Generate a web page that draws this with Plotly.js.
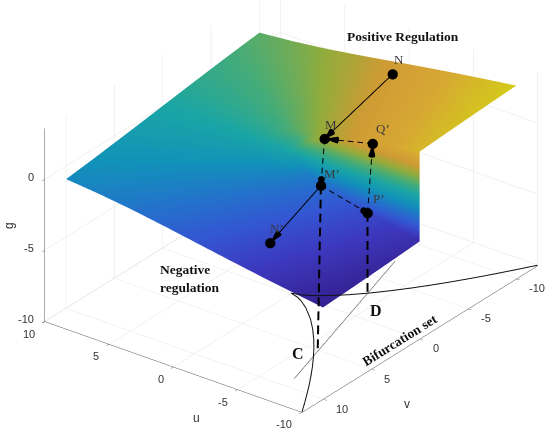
<!DOCTYPE html>
<html><head><meta charset="utf-8">
<script src="https://cdn.plot.ly/plotly-3.0.1.min.js"></script>
<style>html,body{margin:0;padding:0;background:#fff}#chart{width:550px;height:439px}</style>
</head><body><div id="chart"></div>
<script>
// ---- surface: equilibrium sheet g(u,v) (rows = v, columns = u) ----
const uGrid = [-10, -7.5, -5, -2.5, -1.25, 0, 2.5, 5, 7.5, 10];
const vGrid = [-10, -7.5, -5, -2.5, -1, 0, 0, 1, 2.5, 5, 7.5, 10];
const gGrid = [
  [3.577, 3.252, 2.906, 2.538, 2.347, 2.154, 1.772, 1.423, 1.137, 0.922],
  [3.486, 3.144, 2.775, 2.378, 2.170, 1.957, 1.540, 1.175, 0.902, 0.714],
  [3.388, 3.025, 2.627, 2.188, 1.952, 1.710, 1.239, 0.869, 0.633, 0.488],
  [3.281, 2.892, 2.453, 1.946, 1.660, 1.357, 0.797, 0.478, 0.329, 0.249],
  [3.211, 2.803, 2.330, 1.752, 1.401, 1.000, 0.378, 0.198, 0.133, 0.100],
  [3.162, 2.739, 2.236, 1.581, 1.118, 0, 0, 0, 0, 0],
  [-3.162, -2.739, -2.236, -1.581, -1.118, 0, 0, 0, 0, 0],
  [-3.211, -2.803, -2.330, -1.752, -1.401, -1.000, -0.378, -0.198, -0.133, -0.100],
  [-3.281, -2.892, -2.453, -1.946, -1.660, -1.357, -0.797, -0.478, -0.329, -0.249],
  [-3.388, -3.025, -2.627, -2.188, -1.952, -1.710, -1.239, -0.869, -0.633, -0.488],
  [-3.486, -3.144, -2.775, -2.378, -2.170, -1.957, -1.540, -1.175, -0.902, -0.714],
  [-3.577, -3.252, -2.906, -2.538, -2.347, -2.154, -1.772, -1.423, -1.137, -0.922]
];
// ---- bifurcation set on the floor (g = -10) ----
const bifV = [-12.17, -11, -10, -9, -8, -7, -6, -5, -4, -3, -2, -1, -0.5, -0.2, 0, 0.2, 0.5, 1, 2, 3, 4, 5, 6, 7, 8, 9, 10, 11, 12.17];
const bifU = [-10, -9.35, -8.77, -8.18, -7.56, -6.92, -6.24, -5.53, -4.76, -3.93, -3.0, -1.89, -1.19, -0.65, 0, -0.65, -1.19, -1.89, -3.0, -3.93, -4.76, -5.53, -6.24, -6.92, -7.56, -8.18, -8.77, -9.35, -10];
// ---- control path on the floor ----
const pathU = [-6.98, -2.61];
const pathV = [8.98, -7.3];
// ---- labelled states ----
const ptNames = ['N', 'M', 'Q\u2019', 'M\u2019', 'P\u2019', 'N\u2019'];
const ptU = [-1.5, -2.45, -4.2, -6.15, -3.8, -3.45];
const ptV = [-8.5, -0.2, -2.85, 5.1, -2.85, 6.76];
const ptG = [2.3, 1.57, 0.66, 1.70, -4.35, -2.5];
// ---- floor points C, D ----
const floorNames = ['C', 'D'];
const floorU = [-5.9, -3.8];
const floorV = [5.1, -2.85];
const floorG = [-10, -10];
// ---- transitions (from, to) ----
const solidArrows = [[0, 1], [3, 5]];
const dashArrows = [[1, 3], [3, 4], [4, 2], [2, 1]];
const dropLines = [[3, 0], [4, 1]]; // state index -> floor index

const uRange = [-10.03, 10], vRange = [-12.2, 12.2], gRange = [-10.03, 3.58];
const uTicks = [-10, -5, 0, 5, 10], vTicks = [-10, -5, 0, 5, 10], gTicks = [-10, -5, 0];

const parula = [
  [0.0, 'rgb(62,38,168)'], [0.1, 'rgb(70,65,220)'], [0.2, 'rgb(60,100,245)'],
  [0.3, 'rgb(40,135,235)'], [0.4, 'rgb(20,170,215)'], [0.5, 'rgb(30,192,192)'],
  [0.6, 'rgb(80,200,140)'], [0.7, 'rgb(170,200,70)'], [0.8, 'rgb(240,180,60)'],
  [0.9, 'rgb(250,195,60)'], [1.0, 'rgb(245,235,30)']
];

const dir = [-0.5314, 0.7058, 0.4688];
const dist = 2.0;
const ctr = {x: 0.0307, y: 0.0832, z: -0.0904};
const camera = {
  eye: {x: ctr.x + dir[0] * dist, y: ctr.y + dir[1] * dist, z: ctr.z + dir[2] * dist},
  center: ctr,
  up: {x: 0, y: 0, z: 1},
  projection: {type: 'orthographic'}
};
const zoom = 1.786;
const aspect = {x: zoom * 20 / 24.34, y: zoom, z: zoom * 13.58 / 24.34};

function axis(rng, ticks, show) {
  return {
    range: rng, autorange: false, tickvals: ticks,
    title: {text: ''}, showgrid: show, gridcolor: '#e3e3e3', gridwidth: 1,
    showline: show, linecolor: '#555', linewidth: 1, ticks: show ? 'outside' : '',
    ticklen: 4, tickcolor: '#555', showticklabels: false, zeroline: false,
    showbackground: false, showspikes: false, visible: show
  };
}

// dashed segment helper (visual style only): dash lengths measured on screen
function dashed(p0, p1, dash, gap) {
  const d = [p1[0] - p0[0], p1[1] - p0[1], p1[2] - p0[2]];
  const k = d[0] * dir[0] + d[1] * dir[1] + d[2] * dir[2];
  const Ls = Math.hypot(d[0] - k * dir[0], d[1] - k * dir[1], d[2] - k * dir[2]);
  const X = [], Y = [], Z = [];
  for (let s = 0; s < Ls; s += dash + gap) {
    const e = Math.min(s + dash, Ls);
    [s, e].forEach(t => {
      const f = t / Ls;
      X.push(p0[0] + d[0] * f);
      Y.push(p0[1] + d[1] * f);
      Z.push(p0[2] + d[2] * f);
    });
    X.push(null); Y.push(null); Z.push(null);
  }
  return {x: X, y: Y, z: Z};
}
const pt = i => [ptU[i], ptV[i], ptG[i]];
const fl = k => [floorU[k], floorV[k], floorG[k]];

const traces = [];
traces.push({
  type: 'surface', x: uGrid, y: vGrid, z: gGrid, surfacecolor: gGrid,
  colorscale: parula, cmin: -3.58, cmax: 3.58, showscale: false,
  lighting: {ambient: 0.86, diffuse: 0, specular: 0, roughness: 1, fresnel: 0},
  hoverinfo: 'skip', scene: 'scene'
});
traces.push({
  type: 'scatter3d', mode: 'lines', x: pathU, y: pathV, z: [-10, -10],
  line: {color: '#555', width: 1.2}, hoverinfo: 'skip', scene: 'scene', showlegend: false
});

// overlay scene: curves, transitions and states drawn above the sheet
traces.push({
  type: 'scatter3d', mode: 'lines', x: bifU, y: bifV, z: bifV.map(() => -10),
  line: {color: '#111', width: 2}, hoverinfo: 'skip', scene: 'scene2', showlegend: false
});
solidArrows.forEach(([i, j]) => traces.push({
  type: 'scatter3d', mode: 'lines', x: [ptU[i], ptU[j]], y: [ptV[i], ptV[j]], z: [ptG[i], ptG[j]],
  line: {color: '#000', width: 2}, hoverinfo: 'skip', scene: 'scene2', showlegend: false
}));
dashArrows.forEach(([i, j]) => traces.push(Object.assign({
  type: 'scatter3d', mode: 'lines', connectgaps: false,
  line: {color: '#000', width: 2}, hoverinfo: 'skip', scene: 'scene2', showlegend: false
}, dashed(pt(i), pt(j), 0.36, 0.24))));
dropLines.forEach(([i, k]) => traces.push(Object.assign({
  type: 'scatter3d', mode: 'lines', connectgaps: false,
  line: {color: '#000', width: 4}, hoverinfo: 'skip', scene: 'scene2', showlegend: false
}, dashed(pt(i), fl(k), 0.55, 0.32))));
traces.push({
  type: 'scatter3d', mode: 'markers', x: ptU, y: ptV, z: ptG,
  marker: {color: '#000', size: 6}, hoverinfo: 'skip', scene: 'scene2', showlegend: false
});
// arrow heads
const allArrows = solidArrows.concat(dashArrows);
const cx = [], cy = [], cz = [], cu = [], cv = [], cw = [];
allArrows.forEach(([i, j]) => {
  const du = ptU[j] - ptU[i], dv = ptV[j] - ptV[i], dg = ptG[j] - ptG[i];
  const n = Math.hypot(du, dv, dg);
  cx.push(ptU[j]); cy.push(ptV[j]); cz.push(ptG[j]);
  cu.push(du / n); cv.push(dv / n); cw.push(dg / n);
});
traces.push({
  type: 'cone', x: cx, y: cy, z: cz, u: cu, v: cv, w: cw, anchor: 'tip',
  sizemode: 'absolute', sizeref: 0.3, colorscale: [[0, '#000'], [1, '#000']],
  showscale: false, lighting: {ambient: 1, diffuse: 0, specular: 0, fresnel: 0},
  hoverinfo: 'skip', scene: 'scene2'
});

const ptShift = [[6, 15], [6, 14], [10, 15], [11, 12], [11, 15], [7, 14]];
const stateAnn = ptNames.map((t, i) => ({
  x: ptU[i], y: ptV[i], z: ptG[i], text: t, showarrow: false,
  xanchor: 'center', yanchor: 'middle',
  xshift: ptShift[i][0], yshift: ptShift[i][1],
  font: {family: 'Liberation Serif, Times New Roman, serif', size: 13, color: '#3a3a3a'}
}));
const tickFont = {family: 'Liberation Sans, Arial, sans-serif', size: 11, color: '#333'};
const tickAnn = [].concat(
  uTicks.map(t => ({x: t, y: 12.17, z: -10, text: String(t), xanchor: 'right', xshift: -8, yshift: -12.5})),
  vTicks.map(t => ({x: -10, y: t, z: -10, text: String(t), xanchor: 'left', xshift: 11, yshift: -10})),
  gTicks.map(t => ({x: 10, y: 12.17, z: t, text: String(t), xanchor: 'right', xshift: -9, yshift: 2}))
).map(a => Object.assign({showarrow: false, yanchor: 'middle', font: tickFont}, a));

function sceneLayout(show) {
  return {
    domain: {x: [0, 1], y: [0, 1]},
    xaxis: axis(uRange, uTicks, show), yaxis: axis(vRange, vTicks, show), zaxis: axis(gRange, gTicks, show),
    aspectmode: 'manual', aspectratio: aspect, camera: camera, bgcolor: 'rgba(0,0,0,0)',
    dragmode: false
  };
}
const s1 = sceneLayout(true);
s1.annotations = tickAnn;
const s2 = sceneLayout(false);
s2.annotations = stateAnn;

const P = (x, y) => ({x: x / 550, y: 1 - y / 439});
const serifB = (s) => ({family: 'Liberation Serif, Times New Roman, serif', size: s, color: '#111'});
const sans = {family: 'Liberation Sans, Arial, sans-serif', size: 12, color: '#333'};
const ann = [
  Object.assign({text: '<b>Positive Regulation</b>', font: serifB(13.5)}, P(403, 36)),
  Object.assign({text: '<b>Negative<br>regulation</b>', font: serifB(13.5), xanchor: 'left', align: 'left'}, P(158, 278)),
  Object.assign({text: '<b>Bifurcation set</b>', font: serifB(13.5), textangle: -32}, P(399, 340)),
  Object.assign({text: '<b>C</b>', font: serifB(16)}, P(298, 353)),
  Object.assign({text: '<b>D</b>', font: serifB(16)}, P(376, 310)),
  Object.assign({text: 'u', font: sans}, P(196, 418)),
  Object.assign({text: 'v', font: sans}, P(407, 404)),
  Object.assign({text: 'g', font: sans, textangle: -90}, P(9, 226))
].map(a => Object.assign({xref: 'paper', yref: 'paper', showarrow: false, xanchor: 'center', yanchor: 'middle'}, a));

const layout = {
  width: 550, height: 439, margin: {l: 0, r: 0, t: 0, b: 0},
  paper_bgcolor: '#fff', showlegend: false,
  scene: s1, scene2: s2, annotations: ann
};
Plotly.newPlot('chart', traces, layout, {displayModeBar: false});
</script></body></html>
